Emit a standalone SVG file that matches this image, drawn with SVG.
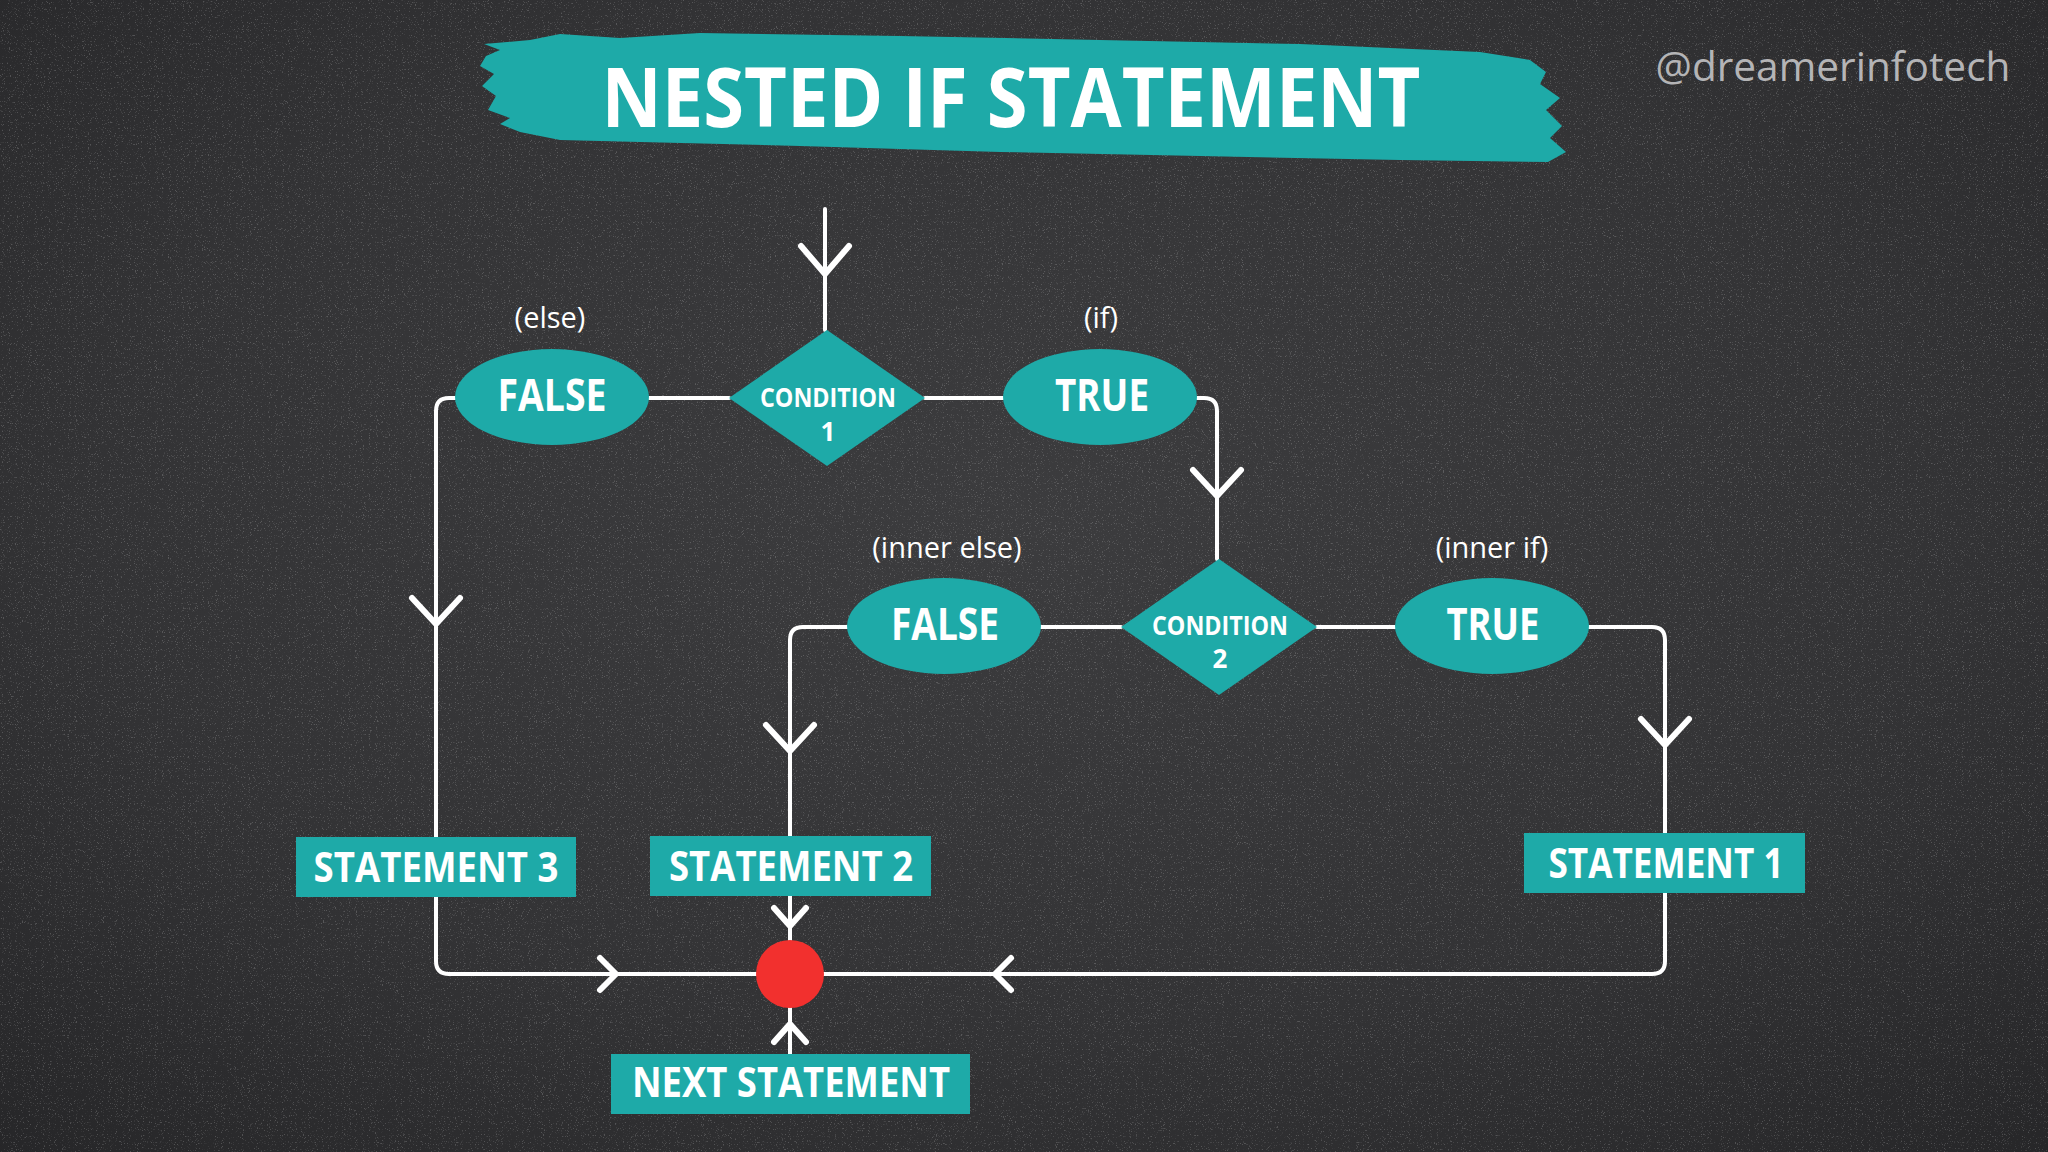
<svg xmlns="http://www.w3.org/2000/svg" width="2048" height="1152" viewBox="0 0 2048 1152">
<defs>
<radialGradient id="bg" cx="0.5" cy="0.45" r="0.75">
<stop offset="0" stop-color="#3c3c3e"/>
<stop offset="0.6" stop-color="#333335"/>
<stop offset="1" stop-color="#262628"/>
</radialGradient>
<filter id="chalk" x="0" y="0" width="100%" height="100%">
<feTurbulence type="fractalNoise" baseFrequency="0.85" numOctaves="2" seed="7" result="n"/>
<feColorMatrix in="n" type="matrix" values="0 0 0 0 1  0 0 0 0 1  0 0 0 0 1  7 0 0 0 -4.3"/>
</filter>
<style>
.line{fill:none;stroke:#ffffff;stroke-width:4;stroke-linecap:round;stroke-linejoin:round}
.chev{fill:none;stroke:#ffffff;stroke-width:6;stroke-linecap:round;stroke-linejoin:round}
.teal{fill:#1eaaa8}
.big{font-family:"Open Sans","Liberation Sans",sans-serif;font-weight:700;fill:#ffffff;text-anchor:middle}
.cond{font-family:"Open Sans","Liberation Sans",sans-serif;font-weight:700;fill:#ffffff;text-anchor:middle;font-size:26px}
.lab{font-family:"Open Sans","Liberation Sans",sans-serif;font-weight:400;fill:#ffffff;text-anchor:middle;font-size:29px}
</style>
</defs>
<rect width="2048" height="1152" fill="url(#bg)"/>
<rect width="2048" height="1152" filter="url(#chalk)" opacity="0.18"/>

<g id="title">
<path class="teal" d="M486,56 L500,50 L484,44 L530,40 L560,34 L620,38 L700,33 L900,36 L1100,40 L1300,44 L1480,52 L1530,60 L1546,72 L1540,84 L1560,98 L1546,110 L1562,126 L1550,138 L1566,152 L1548,162 L1400,160 L1200,156 L1000,152 L800,146 L640,142 L560,140 L520,132 L500,124 L510,118 L488,110 L496,96 L482,86 L494,74 L480,66 Z"/>
<text class="big" x="1011" y="127" font-size="82" textLength="819" lengthAdjust="spacingAndGlyphs">NESTED IF STATEMENT</text>
</g>
<g id="watermark">
<text x="1833" y="81" font-family="Open Sans, Liberation Sans, sans-serif" font-size="40" fill="#b4b4b6" text-anchor="middle" textLength="355" lengthAdjust="spacingAndGlyphs">@dreamerinfotech</text>
</g>

<g id="connectors">
<path class="line" d="M825,209 V330"/>
<path class="line" d="M729,398 H649"/>
<path class="line" d="M925,398 H1003"/>
<path class="line" d="M1197,398 H1204 Q1217,398 1217,411 V559"/>
<path class="line" d="M455,398 H449 Q436,398 436,411 V837"/>
<path class="line" d="M1121,627 H1041"/>
<path class="line" d="M1317,627 H1395"/>
<path class="line" d="M847,627 H803 Q790,627 790,640 V836"/>
<path class="line" d="M1589,627 H1652 Q1665,627 1665,640 V833"/>
<path class="line" d="M436,897 V961 Q436,974 449,974 H756"/>
<path class="line" d="M1665,893 V961 Q1665,974 1652,974 H824"/>
<path class="line" d="M790,896 V940"/>
<path class="line" d="M790,1054 V1008"/>
<polyline class="chev" points="801,246 825,274 849,246"/>
<polyline class="chev" points="412,598 436,624 460,598"/>
<polyline class="chev" points="1193,470 1217,496 1241,470"/>
<polyline class="chev" points="766,725 790,751 814,725"/>
<polyline class="chev" points="1641,719 1665,745 1689,719"/>
<polyline class="chev" points="774,908 790,926 806,908"/>
<polyline class="chev" points="774,1042 790,1024 806,1042"/>
<polyline class="chev" points="600,958 616,974 600,990"/>
<polyline class="chev" points="1011,958 995,974 1011,990"/>
</g>

<g id="condition1">
<polygon class="teal" points="827,330 925,398 827,466 729,398"/>
<text class="cond" x="828" y="407" textLength="136" lengthAdjust="spacingAndGlyphs">CONDITION</text>
<text class="cond" x="828" y="441">1</text>
</g>
<g id="false1">
<ellipse class="teal" cx="552" cy="397" rx="97" ry="48"/>
<text class="big" x="552" y="411" font-size="44" textLength="109" lengthAdjust="spacingAndGlyphs">FALSE</text>
</g>
<g id="true1">
<ellipse class="teal" cx="1100" cy="397" rx="97" ry="48"/>
<text class="big" x="1102" y="411" font-size="44" textLength="94" lengthAdjust="spacingAndGlyphs">TRUE</text>
</g>
<g id="label-else"><text class="lab" x="550" y="328">(else)</text></g>
<g id="label-if"><text class="lab" x="1101" y="328">(if)</text></g>

<g id="condition2">
<polygon class="teal" points="1219,559 1317,627 1219,695 1121,627"/>
<text class="cond" x="1220" y="635" textLength="136" lengthAdjust="spacingAndGlyphs">CONDITION</text>
<text class="cond" x="1220" y="668">2</text>
</g>
<g id="false2">
<ellipse class="teal" cx="944" cy="626" rx="97" ry="48"/>
<text class="big" x="945" y="640" font-size="44" textLength="108" lengthAdjust="spacingAndGlyphs">FALSE</text>
</g>
<g id="true2">
<ellipse class="teal" cx="1492" cy="626" rx="97" ry="48"/>
<text class="big" x="1493" y="640" font-size="44" textLength="93" lengthAdjust="spacingAndGlyphs">TRUE</text>
</g>
<g id="label-inner-else"><text class="lab" x="947" y="558">(inner else)</text></g>
<g id="label-inner-if"><text class="lab" x="1492" y="558">(inner if)</text></g>

<g id="statement3">
<rect class="teal" x="296" y="837" width="280" height="60"/>
<text class="big" x="436" y="882" font-size="42" textLength="245" lengthAdjust="spacingAndGlyphs">STATEMENT 3</text>
</g>
<g id="statement2">
<rect class="teal" x="650" y="836" width="281" height="60"/>
<text class="big" x="791" y="881" font-size="42" textLength="244" lengthAdjust="spacingAndGlyphs">STATEMENT 2</text>
</g>
<g id="statement1">
<rect class="teal" x="1524" y="833" width="281" height="60"/>
<text class="big" x="1666" y="878" font-size="42" textLength="235" lengthAdjust="spacingAndGlyphs">STATEMENT 1</text>
</g>
<g id="merge">
<circle cx="790" cy="974" r="34" fill="#f2302e"/>
</g>
<g id="next-statement">
<rect class="teal" x="611" y="1054" width="359" height="60"/>
<text class="big" x="791" y="1097" font-size="42" textLength="318" lengthAdjust="spacingAndGlyphs">NEXT STATEMENT</text>
</g>
</svg>
